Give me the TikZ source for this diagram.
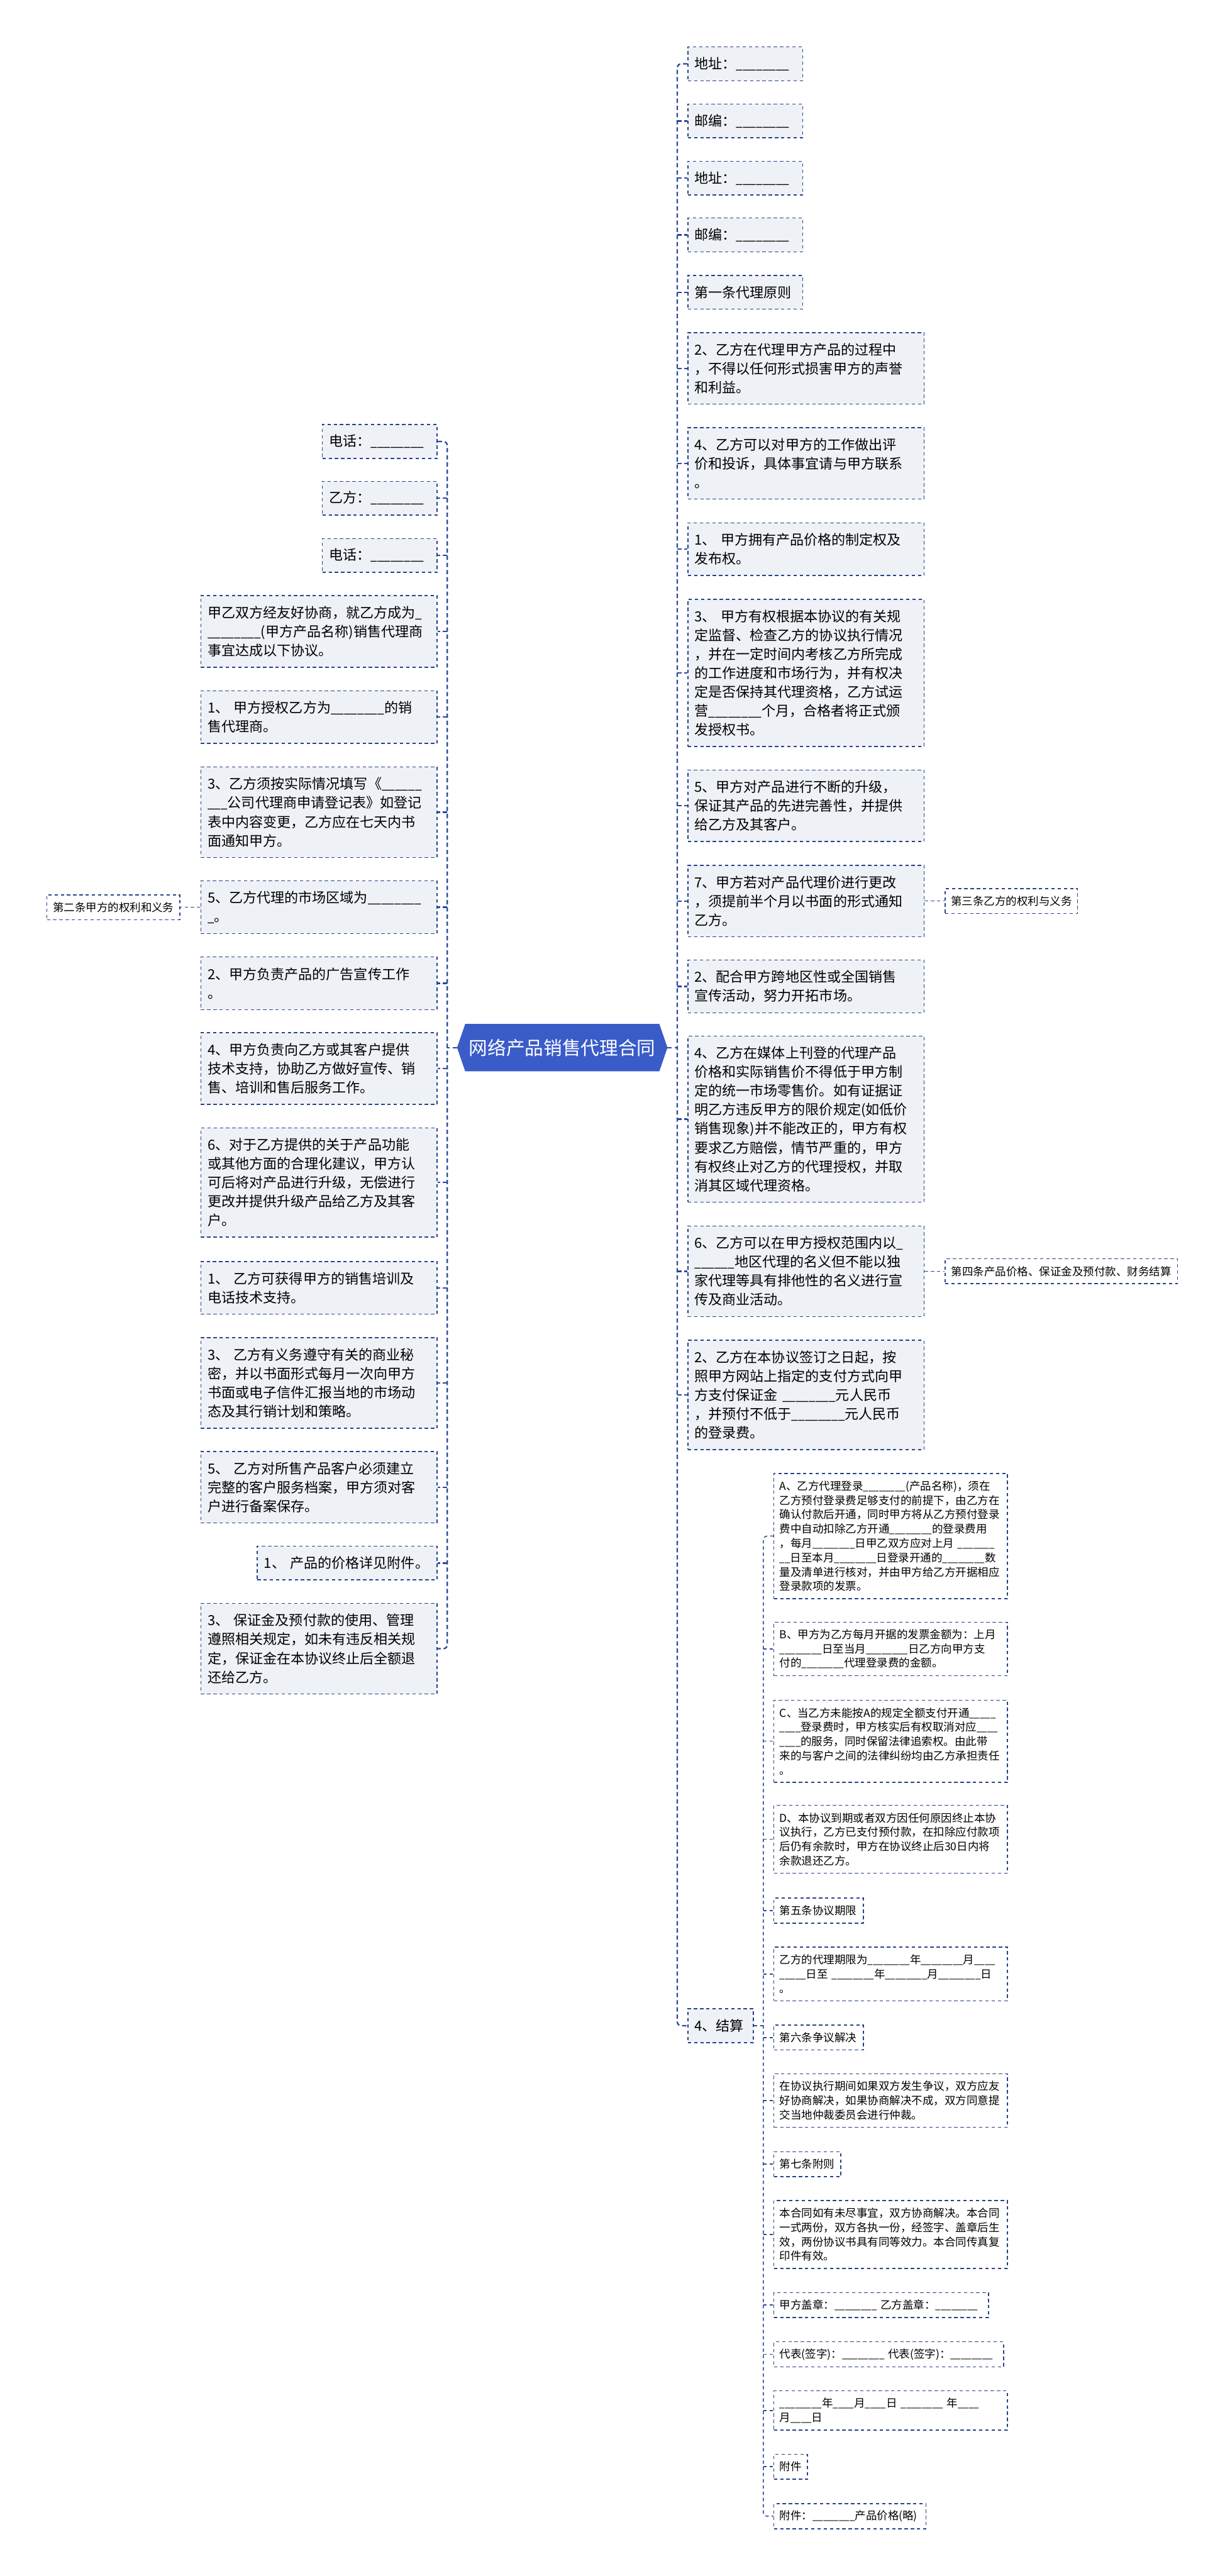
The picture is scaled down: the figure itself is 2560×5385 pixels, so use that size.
\documentclass[tikz,border=0pt]{standalone}
\usepackage{fontspec}
\setmainfont{Noto Sans CJK SC}
\usetikzlibrary{shapes.symbols}
\definecolor{hubblue}{RGB}{58,92,200}
\definecolor{linkblue}{RGB}{42,72,155}
\definecolor{edgenavy}{RGB}{40,66,135}
\definecolor{boxgray}{RGB}{238,241,246}
\ExplSyntaxOn
\NewDocumentCommand\blank{O{8}}{\scalebox{0.86}[1]{\prg_replicate:nn{#1}{\textunderscore}}}
\ExplSyntaxOff
\tikzset{
  mainbox/.style={rectangle, draw=edgenavy, fill=boxgray, line width=1pt, dash pattern=on 3.5pt off 3pt, font=\fontsize{14.5pt}{19.75pt}\selectfont, align=left, inner xsep=7pt, inner ysep=0pt, anchor=west, minimum height=15.5pt+#1*19.75pt},
  mainbox/.default=1,
  subbox/.style={rectangle, draw=edgenavy, fill=white, line width=1pt, dash pattern=on 3.5pt off 3pt, font=\fontsize{11.5pt}{15pt}\selectfont, align=left, inner xsep=6pt, inner ysep=0pt, anchor=west, minimum height=11pt+#1*15pt},
  subbox/.default=1,
  wide/.style={text width=233pt},
  short/.style={text width=106pt},
  full/.style={text width=232pt},
  hub/.style={signal, signal to=west and east, signal pointer angle=142, fill=hubblue, draw=hubblue, text=white, font=\fontsize{19.5pt}{19.5pt}\selectfont, minimum width=219.5pt, minimum height=49pt, inner sep=0pt},
  trunkline/.style={draw=linkblue, line width=1.5pt, dash pattern=on 4.5pt off 3pt},
  twig/.style={draw=linkblue, line width=1pt, dash pattern=on 3.5pt off 3pt},
}
\begin{document}
\begin{tikzpicture}[x=0.5pt, y=-0.5pt]
\fill[white] (0,0) rectangle (2560,5385);
\useasboundingbox (0,0) rectangle (2560,5385);

\node[hub] (hub) at (1175.5,2190) {网络产品销售代理合同};

\node[mainbox, short] (r1) at (1437,133.5) {地址：\blank};
\node[mainbox, short] (r2) at (1437,253) {邮编：\blank};
\node[mainbox, short] (r3) at (1437,372.5) {地址：\blank};
\node[mainbox, short] (r4) at (1437,491) {邮编：\blank};
\node[mainbox, short] (r5) at (1437,611) {第一条代理原则};
\node[mainbox=3, wide] (r6) at (1437,770) {2、乙方在代理甲方产品的过程中\\，不得以任何形式损害甲方的声誉\\和利益。};
\node[mainbox=3, wide] (r7) at (1437,968.5) {4、乙方可以对甲方的工作做出评\\价和投诉，具体事宜请与甲方联系\\。};
\node[mainbox=2, wide] (r8) at (1437,1148) {1、 甲方拥有产品价格的制定权及\\发布权。};
\node[mainbox=7, wide] (r9) at (1437,1406.5) {3、 甲方有权根据本协议的有关规\\定监督、检查乙方的协议执行情况\\，并在一定时间内考核乙方所完成\\的工作进度和市场行为，并有权决\\定是否保持其代理资格，乙方试运\\营\blank 个月，合格者将正式颁\\发授权书。};
\node[mainbox=3, wide] (r10) at (1437,1684.5) {5、甲方对产品进行不断的升级，\\保证其产品的先进完善性，并提供\\给乙方及其客户。};
\node[mainbox=3, wide] (r11) at (1437,1883.5) {7、甲方若对产品代理价进行更改\\，须提前半个月以书面的形式通知\\乙方。};
\node[mainbox=2, wide] (r12) at (1437,2062) {2、配合甲方跨地区性或全国销售\\宣传活动，努力开拓市场。};
\node[mainbox=8, wide] (r13) at (1437,2339.5) {4、乙方在媒体上刊登的代理产品\\价格和实际销售价不得低于甲方制\\定的统一市场零售价。如有证据证\\明乙方违反甲方的限价规定(如低价\\销售现象)并不能改正的，甲方有权\\要求乙方赔偿，情节严重的，甲方\\有权终止对乙方的代理授权，并取\\消其区域代理资格。};
\node[mainbox=4, wide] (r14) at (1437,2657.5) {6、乙方可以在甲方授权范围内以\blank[1]\\\blank[6]地区代理的名义但不能以独\\家代理等具有排他性的名义进行宣\\传及商业活动。};
\node[mainbox=5, wide] (r15) at (1437,2916) {2、乙方在本协议签订之日起，按\\照甲方网站上指定的支付方式向甲\\方支付保证金~\blank 元人民币\\，并预付不低于\blank 元人民币\\的登录费。};
\node[mainbox, text width=54.5pt] (r16) at (1437,4234.5) {4、结算};

\node[subbox, text width=126.5pt, align=center] (t3) at (1975,1883.5) {第三条乙方的权利与义务};
\node[subbox, text width=231pt, align=center] (t4) at (1975,2657.5) {第四条产品价格、保证金及预付款、财务结算};

\node[subbox=8, full] (s1) at (1617,3211) {A、乙方代理登录\blank(产品名称)，须在\\乙方预付登录费足够支付的前提下，由乙方在\\确认付款后开通，同时甲方将从乙方预付登录\\费中自动扣除乙方开通\blank 的登录费用\\，每月\blank 日甲乙双方应对上月~\blank[7]\\\blank[2]日至本月\blank 日登录开通的\blank 数\\量及清单进行核对，并由甲方给乙方开据相应\\登录款项的发票。};
\node[subbox=3, full] (s2) at (1617,3447) {B、甲方为乙方每月开据的发票金额为：上月\\\blank 日至当月\blank 日乙方向甲方支\\付的\blank 代理登录费的金额。};
\node[subbox=5, full] (s3) at (1617,3640) {C、当乙方未能按A的规定全额支付开通\blank[5]\\\blank[4]登录费时，甲方核实后有权取消对应\blank[4]\\\blank[4]的服务，同时保留法律追索权。由此带\\来的与客户之间的法律纠纷均由乙方承担责任\\。};
\node[subbox=4, full] (s4) at (1617,3845) {D、本协议到期或者双方因任何原因终止本协\\议执行，乙方已支付预付款，在扣除应付款项\\后仍有余款时，甲方在协议终止后30日内将\\余款退还乙方。};
\node[subbox, text width=81.5pt] (s5) at (1617,3994) {第五条协议期限};
\node[subbox=3, full] (s6) at (1617,4126.5) {乙方的代理期限为\blank 年\blank 月\blank[4]\\\blank[5]日至~\blank 年\blank 月\blank 日\\。};
\node[subbox, text width=81.5pt] (s7) at (1617,4259.5) {第六条争议解决};
\node[subbox=3, full] (s8) at (1617,4391) {在协议执行期间如果双方发生争议，双方应友\\好协商解决，如果协商解决不成，双方同意提\\交当地仲裁委员会进行仲裁。};
\node[subbox, text width=58pt] (s9) at (1617,4524) {第七条附则};
\node[subbox=4, full] (s10) at (1617,4671) {本合同如有未尽事宜，双方协商解决。本合同\\一式两份，双方各执一份，经签字、盖章后生\\效，两份协议书具有同等效力。本合同传真复\\印件有效。};
\node[subbox, text width=212.5pt] (s11) at (1617,4818.5) {甲方盖章：\blank~乙方盖章：\blank};
\node[subbox, text width=228pt] (s12) at (1617,4921.5) {代表(签字)：\blank~代表(签字)：\blank};
\node[subbox=2, full] (s13) at (1617,5039) {\blank 年\blank[4]月\blank[4]日~\blank~年\blank[4]\\月\blank[4]日};
\node[subbox, text width=23pt] (s14) at (1617,5156.5) {附件};
\node[subbox, text width=147pt] (s15) at (1617,5260) {附件：\blank 产品价格(略)};

\node[mainbox, short, anchor=east] (l1) at (915,923) {电话：\blank};
\node[mainbox, short, anchor=east] (l2) at (915,1041.5) {乙方：\blank};
\node[mainbox, short, anchor=east] (l3) at (915,1161) {电话：\blank};
\node[mainbox=3, wide, anchor=east] (l4) at (915,1320) {甲乙双方经友好协商，就乙方成为\blank[1]\\\blank(甲方产品名称)销售代理商\\事宜达成以下协议。};
\node[mainbox=2, wide, anchor=east] (l5) at (915,1499) {1、 甲方授权乙方为\blank 的销\\售代理商。};
\node[mainbox=4, wide, anchor=east] (l6) at (915,1698) {3、乙方须按实际情况填写《\blank[6]\\\blank[3]公司代理商申请登记表》如登记\\表中内容变更，乙方应在七天内书\\面通知甲方。};
\node[mainbox=2, wide, anchor=east] (l7) at (915,1896.5) {5、乙方代理的市场区域为\blank\\\blank[1]。};
\node[mainbox=2, wide, anchor=east] (l8) at (915,2055.5) {2、甲方负责产品的广告宣传工作\\。};
\node[mainbox=3, wide, anchor=east] (l9) at (915,2233.5) {4、甲方负责向乙方或其客户提供\\技术支持，协助乙方做好宣传、销\\售、培训和售后服务工作。};
\node[mainbox=5, wide, anchor=east] (l10) at (915,2472) {6、对于乙方提供的关于产品功能\\或其他方面的合理化建议，甲方认\\可后将对产品进行升级，无偿进行\\更改并提供升级产品给乙方及其客\\户。};
\node[mainbox=2, wide, anchor=east] (l11) at (915,2692) {1、 乙方可获得甲方的销售培训及\\电话技术支持。};
\node[mainbox=4, wide, anchor=east] (l12) at (915,2891) {3、 乙方有义务遵守有关的商业秘\\密，并以书面形式每月一次向甲方\\书面或电子信件汇报当地的市场动\\态及其行销计划和策略。};
\node[mainbox=3, wide, anchor=east] (l13) at (915,3109) {5、 乙方对所售产品客户必须建立\\完整的客户服务档案，甲方须对客\\户进行备案保存。};
\node[mainbox, text width=174pt, anchor=east] (l14) at (915,3267.5) {1、 产品的价格详见附件。};
\node[mainbox=4, wide, anchor=east] (l15) at (915,3446.5) {3、 保证金及预付款的使用、管理\\遵照相关规定，如未有违反相关规\\定，保证金在本协议终止后全额退\\还给乙方。};

\node[subbox, text width=127pt, align=center, anchor=east] (t2) at (377,1896.5) {第二条甲方的权利和义务};

\coordinate (rj) at (1416,2190);
\coordinate (lj) at (935,2190);
\coordinate (sj) at (1596,4234.5);

\draw[trunkline] (hub.east) -- (rj);
\draw[trunkline] (hub.west) -- (lj);
\draw[trunkline, rounded corners=4pt] (r1.west) -| (rj) |- (r16.west);
\foreach \i in {2,...,15} \draw[trunkline] (rj |- r\i.west) -- (r\i.west);
\draw[trunkline, rounded corners=4pt] (l1.east) -| (lj) |- (l15.east);
\foreach \i in {2,...,14} \draw[trunkline] (lj |- l\i.east) -- (l\i.east);
\draw[twig] (r16.east) -- (sj);
\draw[twig, rounded corners=4pt] (s1.west) -| (sj) |- (s15.west);
\foreach \i in {2,...,14} \draw[twig] (sj |- s\i.west) -- (s\i.west);
\draw[twig] (r11.east) -- (t3.west);
\draw[twig] (r14.east) -- (t4.west);
\draw[twig] (l7.west) -- (t2.east);
\end{tikzpicture}
\end{document}
